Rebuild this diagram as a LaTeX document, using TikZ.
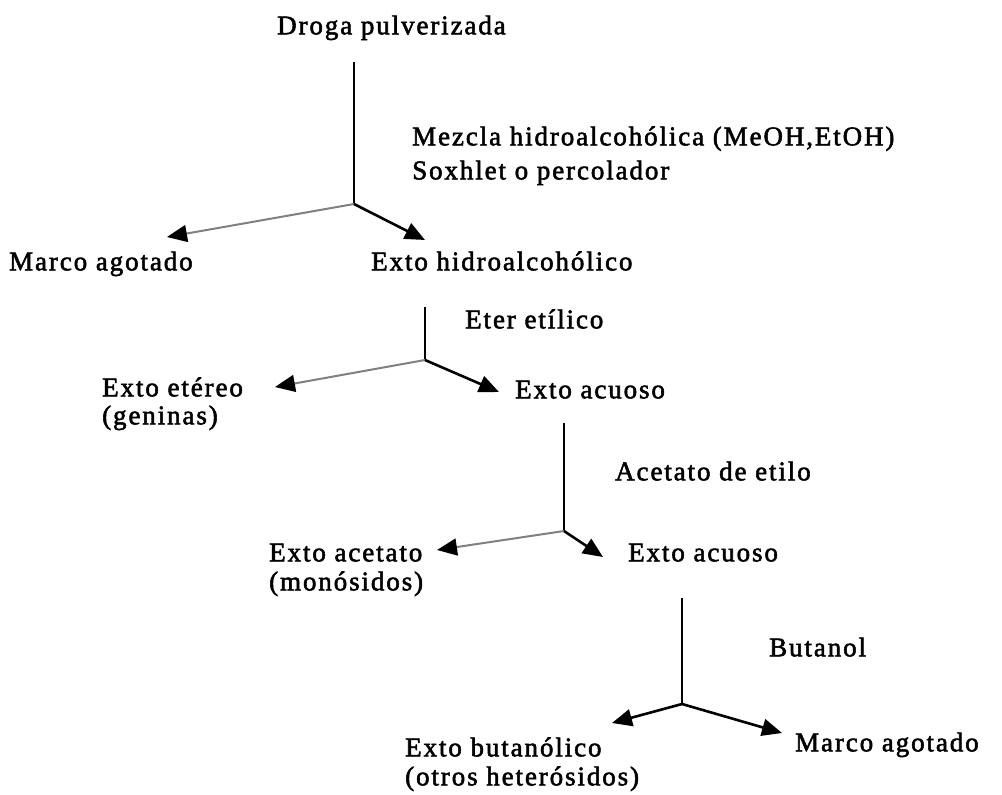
\documentclass[tikz,border=0pt]{standalone}
\usepackage{fontspec}
\setmainfont{Liberation Serif}[LetterSpace=7,FakeBold=2]
\usetikzlibrary{arrows.meta}
\tikzset{
  lbl/.style={anchor=mid west, inner sep=0pt, yshift=-6pt, font=\fontsize{27}{31}\selectfont},
  stem/.style={line width=2pt, black},
  darkarrow/.style={line width=2.6pt, black, -{Triangle[length=20pt,width=17pt]}},
  greyarrow/.style={line width=2pt, black!50, -{Triangle[length=20pt,width=17pt,color=black]}}
}
\begin{document}
\begin{tikzpicture}[x=1pt,y=-1pt]
\useasboundingbox (0,0) rectangle (1002,795);

% texts
\node[lbl] (droga) at (277,26) {Droga pulverizada};
\node[lbl] (mezcla) at (412,137) {Mezcla hidroalcohólica (MeOH,EtOH)};
\node[lbl] (soxhlet) at (412,171) {Soxhlet o percolador};
\node[lbl] (marco1) at (9,262) {Marco agotado};
\node[lbl] (hidro) at (371,262) {Exto hidroalcohólico};
\node[lbl] (eter) at (465,320) {Eter etílico};
\node[lbl] (etereo) at (102,388) {Exto etéreo};
\node[lbl] (geninas) at (102,416) {(geninas)};
\node[lbl] (acuoso1) at (515,390) {Exto acuoso};
\node[lbl] (acetatoetilo) at (615,472) {Acetato de etilo};
\node[lbl] (acetato) at (269,553) {Exto acetato};
\node[lbl] (monosidos) at (269,582) {(monósidos)};
\node[lbl] (acuoso2) at (628,553) {Exto acuoso};
\node[lbl] (butanol) at (769,648) {Butanol};
\node[lbl] (butanolico) at (405,748) {Exto butanólico};
\node[lbl] (otros) at (405,777) {(otros heterósidos)};
\node[lbl] (marco2) at (795,743) {Marco agotado};

% stems and junctions
\coordinate (t1) at (354,62);  \coordinate (j1) at (354,204);
\coordinate (t2) at (425,307); \coordinate (j2) at (425,360);
\coordinate (t3) at (564,423); \coordinate (j3) at (564,531);
\coordinate (t4) at (682,598); \coordinate (j4) at (682,704);

% arrow tips
\coordinate (l1) at (167,237); \coordinate (r1) at (425,240);
\coordinate (l2) at (275,387); \coordinate (r2) at (499,392);
\coordinate (l3) at (437,550); \coordinate (r3) at (603,557);
\coordinate (l4) at (612,723); \coordinate (r4) at (782,733);

\draw[stem] (t1) -- (j1);
\draw[stem] (t2) -- (j2);
\draw[stem] (t3) -- (j3);
\draw[stem] (t4) -- (j4);

\draw[greyarrow] (j1) -- (l1);
\draw[darkarrow] (j1) -- (r1);
\draw[greyarrow] (j2) -- (l2);
\draw[darkarrow] (j2) -- (r2);
\draw[greyarrow] (j3) -- (l3);
\draw[darkarrow] (j3) -- (r3);
\draw[darkarrow] (j4) -- (l4);
\draw[darkarrow] (j4) -- (r4);
\end{tikzpicture}
\end{document}
